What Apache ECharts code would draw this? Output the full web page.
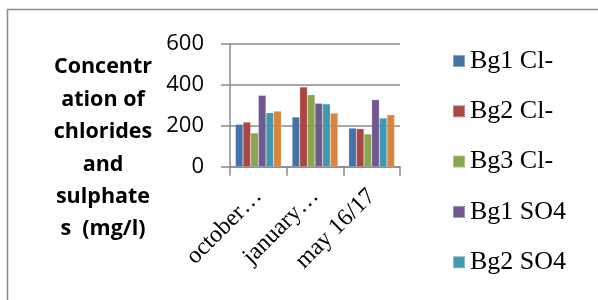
<!DOCTYPE html>
<html>
<head>
<meta charset="utf-8">
<script src="https://cdn.jsdelivr.net/npm/echarts@6/dist/echarts.min.js"></script>
<style>
html,body{margin:0;padding:0;background:#fff;}
#chart{width:598px;height:300px;}
</style>
</head>
<body>
<div id="chart"></div>
<script>
var categories = ['october\u2026', 'january\u2026', 'may 16/17'];
var seriesNames = ['Bg1 Cl-', 'Bg2 Cl-', 'Bg3 Cl-', 'Bg1 SO4', 'Bg2 SO4', 'Bg3 SO4'];
var bg1Cl = [207, 243, 189];
var bg2Cl = [218, 390, 186];
var bg3Cl = [165, 352, 160];
var bg1SO4 = [349, 310, 328];
var bg2SO4 = [264, 307, 238];
var bg3SO4 = [272, 262, 254];
var yTicks = [0, 200, 400, 600];
var legendShown = ['Bg1 Cl-', 'Bg2 Cl-', 'Bg3 Cl-', 'Bg1 SO4', 'Bg2 SO4'];

var colors = ['#4572A7', '#AA4643', '#89A54E', '#71588F', '#4198AF', '#DB843D'];
var allData = [bg1Cl, bg2Cl, bg3Cl, bg1SO4, bg2SO4, bg3SO4];

var chart = echarts.init(document.getElementById('chart'), null, {renderer: 'canvas'});
var gray = '#8a8a8a';
var option = {
  animation: false,
  color: colors,
  title: {
    text: 'Concentr\nation of\nchlorides\nand\nsulphate\ns  (mg/l)',
    left: 98,
    top: 46,
    textAlign: 'center',
    textStyle: {
      fontFamily: 'Open Sans',
      fontWeight: 'bold',
      fontSize: 21.5,
      lineHeight: 32.4,
      color: '#000'
    }
  },
  legend: {
    data: legendShown,
    orient: 'vertical',
    left: 447,
    top: 43,
    itemWidth: 12,
    itemHeight: 12,
    itemGap: 24.3,
    icon: 'rect',
    textStyle: {fontFamily: 'Liberation Serif', fontSize: 26, color: '#000'}
  },
  graphic: [{
    type: 'rect',
    shape: {x: 7.5, y: 9.5, width: 700, height: 400},
    style: {fill: 'none', stroke: '#8c8c8c', lineWidth: 1.5},
    silent: true,
    z: -1
  }],
  grid: {left: 230, right: 198, top: 44, bottom: 133.3, containLabel: false},
  xAxis: {
    type: 'category',
    data: categories,
    axisLine: {lineStyle: {color: gray, width: 1.5}},
    axisTick: {show: true, length: 9, lineStyle: {color: gray, width: 1.5}, alignWithLabel: false},
    axisLabel: {
      rotate: 45,
      interval: 0,
      margin: 26,
      fontFamily: 'Liberation Serif',
      fontSize: 24,
      color: '#000'
    }
  },
  yAxis: {
    type: 'value',
    min: yTicks[0],
    max: yTicks[yTicks.length - 1],
    interval: 200,
    axisLine: {show: true, lineStyle: {color: gray, width: 1.5}},
    axisTick: {show: true, length: 9, lineStyle: {color: gray, width: 1.5}},
    splitLine: {lineStyle: {color: gray, width: 1.5}},
    axisLabel: {margin: 26, fontFamily: 'Open Sans', fontSize: 22, color: '#000'}
  },
  series: seriesNames.map(function (n, i) {
    return {
      name: n,
      type: 'bar',
      data: allData[i],
      barGap: '0%',
      barCategoryGap: '19%',
      itemStyle: {color: colors[i], borderColor: 'rgba(255,255,255,0.35)', borderWidth: 0.5}
    };
  })
};
chart.setOption(option);
</script>
</body>
</html>
